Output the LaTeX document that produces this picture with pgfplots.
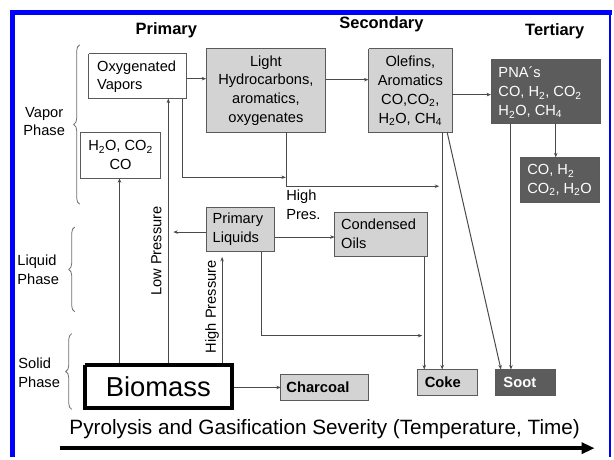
\documentclass[border=0pt]{standalone}
\usepackage{pgfplots}
\pgfplotsset{compat=1.18}
\usepackage{fontspec}
\setmainfont{Liberation Sans}
\usetikzlibrary{arrows.meta,decorations.pathreplacing}
\definecolor{lgray}{HTML}{D3D3D3}
\definecolor{dgray}{HTML}{5C5C5C}
\definecolor{lcol}{HTML}{4A4A4A}
\definecolor{bcol}{HTML}{5A5A5A}
\definecolor{fblue}{HTML}{0000FF}
\newcommand{\sub}[1]{\textsubscript{#1}}
\tikzset{
  bx/.style={draw=bcol,line width=1bp,fill=white},
  gbx/.style={draw=bcol,line width=1bp,fill=lgray},
  dbx/.style={draw=bcol,line width=1bp,fill=dgray},
  arr/.style={lcol,line width=1bp,-{Stealth[length=4.5bp,width=3.5bp]}},
  txt/.style={font=\fontsize{14.7bp}{19bp}\selectfont},
  ttl/.style={font=\fontsize{16.5bp}{19bp}\selectfont\bfseries},
  brc/.style={draw=lcol!80,line width=0.8bp,decorate,decoration={brace,amplitude=6bp}},
}
\begin{document}
\begin{tikzpicture}
\begin{axis}[width=614bp,height=459bp,scale only axis,
  xmin=0,xmax=614,ymin=0,ymax=459,y dir=reverse,
  hide axis, clip=false]
\path (axis cs:0,0) rectangle (axis cs:614,459);
% frame
\addplot[fblue,line width=5bp] coordinates {(10,12.5) (614,12.5)};
\addplot[fblue,line width=5bp] coordinates {(12.5,10) (12.5,459)};
\addplot[fblue,line width=2bp] coordinates {(612.8,12) (612.8,459)};
% boxes
\addplot[bx] coordinates {(89,54) (187,54) (187,99) (89,99) (89,54)};
\addplot[gbx] coordinates {(207,49) (327,49) (327,133) (207,133) (207,49)};
\addplot[gbx] coordinates {(370,49) (454,49) (454,133) (370,133) (370,49)};
\addplot[dbx] coordinates {(493,60) (603,60) (603,124) (493,124) (493,60)};
\addplot[dbx] coordinates {(523,158) (602,158) (602,203) (523,203) (523,158)};
\addplot[bx] coordinates {(81,133) (161,133) (161,179) (81,179) (81,133)};
\addplot[gbx] coordinates {(207,208) (276,208) (276,253) (207,253) (207,208)};
\addplot[gbx] coordinates {(336,213) (429,213) (429,258) (336,258) (336,213)};
\addplot[draw=black,line width=4bp,fill=white] coordinates {(85,366) (233,366) (233,410) (85,410) (85,366)};
\addplot[gbx] coordinates {(282,376) (370,376) (370,402) (282,402) (282,376)};
\addplot[gbx] coordinates {(419,371) (479,371) (479,397) (419,397) (419,371)};
\addplot[dbx] coordinates {(498,371) (558,371) (558,397) (498,397) (498,371)};
% arrows
\addplot[arr] coordinates {(187,79) (207,79)};
\addplot[arr] coordinates {(327,80) (370,80)};
\addplot[arr] coordinates {(454,95) (493,95)};
\addplot[arr] coordinates {(558,124) (558,158)};
\addplot[arr] coordinates {(183,99) (183,178) (287,178)};
\addplot[arr] coordinates {(288,133) (288,187) (441,187)};
\addplot[arr] coordinates {(444,133) (444,371)};
\addplot[arr] coordinates {(449,133) (503,371)};
\addplot[arr] coordinates {(513,124) (513,371)};
\addplot[arr] coordinates {(120,364) (120,179)};
\addplot[arr] coordinates {(169,364) (169,99)};
\addplot[arr] coordinates {(207,233) (174,233)};
\addplot[arr] coordinates {(223,364) (223,258)};
\addplot[arr] coordinates {(276,238) (336,238)};
\addplot[arr] coordinates {(263,253) (263,337) (424,337)};
\addplot[arr] coordinates {(426,258) (426,371)};
\addplot[arr] coordinates {(235,389) (282,389)};
% big bottom arrow
\addplot[black,line width=3.5bp,-{Triangle[length=13bp,width=11bp]}] coordinates {(60,450) (597,450)};
% braces
\draw[brc] (axis cs:80,205) -- (axis cs:80,45);
\draw[brc] (axis cs:75,313) -- (axis cs:75,228);
\draw[brc] (axis cs:72,411) -- (axis cs:72,335);
% titles
\node[ttl] at (axis cs:167,30) {Primary};
\node[ttl] at (axis cs:383,24) {Secondary};
\node[ttl] at (axis cs:557,31) {Tertiary};
% phase labels
\node[txt,anchor=west,align=center] at (axis cs:20,122) {Vapor\\Phase};
\node[txt,anchor=west,align=left] at (axis cs:14,271) {Liquid\\Phase};
\node[txt,anchor=west,align=left] at (axis cs:15,374) {Solid\\Phase};
% box texts
\node[txt,anchor=west,align=left] at (axis cs:94,77) {Oxygenated\\Vapors};
\node[txt,align=center] at (axis cs:267,91) {Light\\Hydrocarbons,\\aromatics,\\oxygenates};
\node[txt,align=center] at (axis cs:412,91) {Olefins,\\Aromatics\\CO,CO\sub{2},\\H\sub{2}O, CH\sub{4}};
\node[txt,anchor=west,align=left,text=white] at (axis cs:497,93) {PNA´s\\CO, H\sub{2}, CO\sub{2}\\H\sub{2}O, CH\sub{4}};
\node[txt,anchor=west,align=left,text=white] at (axis cs:526,181) {CO, H\sub{2}\\CO\sub{2}, H\sub{2}O};
\node[txt,align=center] at (axis cs:121,156) {H\sub{2}O, CO\sub{2}\\CO};
\node[txt,anchor=west,align=left] at (axis cs:210,230) {Primary\\Liquids};
\node[txt,anchor=west,align=left] at (axis cs:339,235) {Condensed\\Oils};
\node[txt,anchor=west,align=left] at (axis cs:284,206) {High\\Pres.};
\node[txt,rotate=90] at (axis cs:157,252) {Low Pressure};
\node[txt,rotate=90] at (axis cs:213,308) {High Pressure};
\node[font=\fontsize{27.5bp}{30bp}\selectfont] at (axis cs:159,388) {Biomass};
\node[font=\fontsize{14.8bp}{16bp}\selectfont\bfseries,anchor=west] at (axis cs:284,389) {Charcoal};
\node[font=\fontsize{14.8bp}{16bp}\selectfont\bfseries,anchor=west] at (axis cs:423,384) {Coke};
\node[font=\fontsize{14.8bp}{16bp}\selectfont\bfseries,anchor=west,text=white] at (axis cs:502,384) {Soot};
\node[font=\fontsize{20.8bp}{24bp}\selectfont] at (axis cs:326,431) {Pyrolysis and Gasification Severity (Temperature, Time)};
\end{axis}
\end{tikzpicture}
\end{document}
